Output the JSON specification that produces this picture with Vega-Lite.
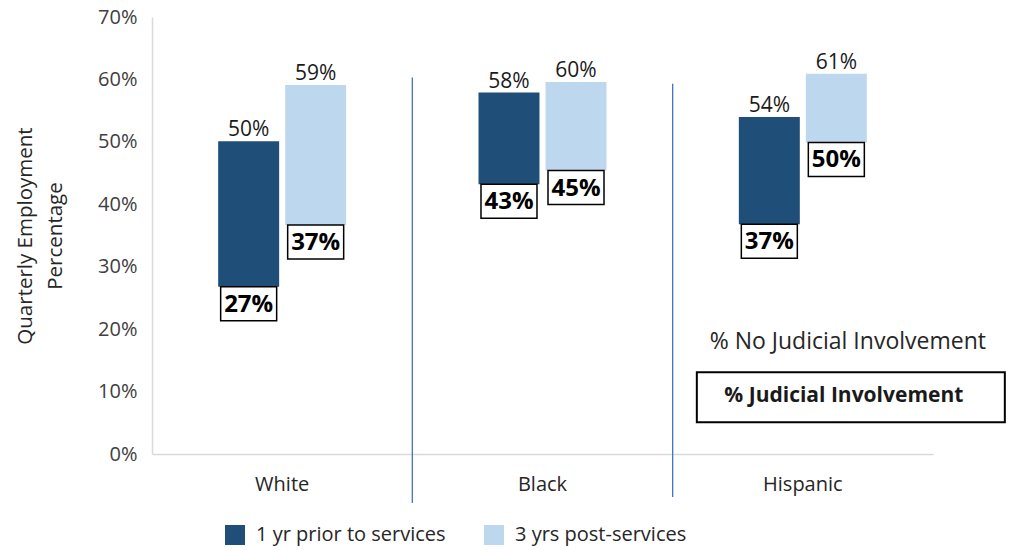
{
  "$schema": "https://vega.github.io/schema/vega-lite/v6.json",
  "width": 781,
  "height": 437,
  "autosize": {"type": "none"},
  "padding": {"left": 152, "top": 17, "right": 76, "bottom": 96},
  "background": "white",
  "config": {
    "font": "Open Sans",
    "view": {"stroke": null},
    "axisX": {"labelFontSize": 20, "labelColor": "#262626", "labelPadding": 20, "ticks": false, "domainColor": "#d9d9d9", "domainWidth": 1.5, "labelAngle": 0, "grid": false},
    "axisY": {"labelFontSize": 20, "labelColor": "#404040", "labelPadding": 15, "ticks": false, "domainColor": "#d9d9d9", "domainWidth": 1.5, "gridColor": "#e8e8e8", "format": ".0%", "titleFontSize": 20.5, "titleLineHeight": 30, "titleFontWeight": "normal", "titleColor": "#262626", "titlePadding": 32}
  },
  "datasets": {
    "bars": [
      {"race": "White", "period": "1 yr prior to services", "low": 0.268, "high": 0.501},
      {"race": "White", "period": "3 yrs post-services", "low": 0.367, "high": 0.591},
      {"race": "Black", "period": "1 yr prior to services", "low": 0.432, "high": 0.579},
      {"race": "Black", "period": "3 yrs post-services", "low": 0.454, "high": 0.596},
      {"race": "Hispanic", "period": "1 yr prior to services", "low": 0.368, "high": 0.54},
      {"race": "Hispanic", "period": "3 yrs post-services", "low": 0.499, "high": 0.609}
    ],
    "notes": [{"race": "Hispanic", "top": "% No Judicial Involvement", "bottom": "% Judicial Involvement"}]
  },
  "layer": [
    {
      "data": {"name": "notes"},
      "mark": {"type": "bar", "fill": "white", "width": 252},
      "encoding": {
        "x": {"field": "race", "type": "nominal", "scale": {"domain": ["White", "Black", "Hispanic"], "paddingInner": 0, "paddingOuter": 0}, "title": null},
        "y": {"datum": 0.022, "type": "quantitative", "scale": {"domain": [0, 0.7], "nice": false}},
        "y2": {"datum": 0.25}
      }
    },
    {
      "data": {"values": [{"race": "Black"}]},
      "mark": {"type": "rule", "color": "#4472c4", "strokeWidth": 1.3},
      "encoding": {
        "x": {"field": "race", "type": "nominal", "bandPosition": 0, "scale": {"domain": ["White", "Black", "Hispanic"], "paddingInner": 0, "paddingOuter": 0}, "title": null},
        "y": {"datum": 0.603, "type": "quantitative"},
        "y2": {"datum": -0.0785}
      }
    },
    {
      "data": {"values": [{"race": "Hispanic"}]},
      "mark": {"type": "rule", "color": "#4472c4", "strokeWidth": 1.3},
      "encoding": {
        "x": {"field": "race", "type": "nominal", "bandPosition": 0, "scale": {"domain": ["White", "Black", "Hispanic"], "paddingInner": 0, "paddingOuter": 0}, "title": null},
        "y": {"datum": 0.593, "type": "quantitative"},
        "y2": {"datum": -0.069}
      }
    },
    {
      "data": {"name": "bars"},
      "mark": {"type": "bar"},
      "encoding": {
        "x": {"field": "race", "type": "nominal", "scale": {"domain": ["White", "Black", "Hispanic"], "paddingInner": 0, "paddingOuter": 0}, "title": null},
        "xOffset": {"field": "period", "type": "nominal", "scale": {"domain": ["1 yr prior to services", "3 yrs post-services"], "paddingInner": 0.09, "paddingOuter": 0.9875}},
        "y": {"field": "low", "type": "quantitative", "scale": {"domain": [0, 0.7], "nice": false}, "title": ["Quarterly Employment", "Percentage"], "axis": {"values": [0, 0.1, 0.2, 0.3, 0.4, 0.5, 0.6, 0.7]}},
        "y2": {"field": "high"},
        "color": {
          "field": "period", "type": "nominal",
          "scale": {"domain": ["1 yr prior to services", "3 yrs post-services"], "range": ["#1f4e79", "#bdd7ee"]},
          "legend": {"orient": "none", "legendX": 73, "legendY": 508, "direction": "horizontal", "title": null, "symbolType": "square", "symbolSize": 400, "symbolStrokeWidth": 0, "labelFontSize": 20, "labelColor": "#262626", "columnPadding": 38, "labelOffset": 11, "labelLimit": 400}
        }
      }
    },
    {
      "data": {"name": "bars"},
      "mark": {"type": "text", "fontSize": 21, "baseline": "alphabetic", "dy": -5, "color": "#1a1a1a"},
      "encoding": {
        "x": {"field": "race", "type": "nominal", "scale": {"domain": ["White", "Black", "Hispanic"], "paddingInner": 0, "paddingOuter": 0}, "title": null},
        "xOffset": {"field": "period", "type": "nominal", "scale": {"domain": ["1 yr prior to services", "3 yrs post-services"], "paddingInner": 0.09, "paddingOuter": 0.9875}},
        "y": {"field": "high", "type": "quantitative", "scale": {"domain": [0, 0.7], "nice": false}, "title": ["Quarterly Employment", "Percentage"], "axis": {"values": [0, 0.1, 0.2, 0.3, 0.4, 0.5, 0.6, 0.7]}},
        "text": {"field": "high", "type": "quantitative", "format": ".0%"}
      }
    },
    {
      "data": {"name": "bars"},
      "mark": {"type": "bar", "fill": "white", "stroke": "black", "strokeWidth": 1.5, "width": 56, "y2Offset": 34},
      "encoding": {
        "x": {"field": "race", "type": "nominal", "scale": {"domain": ["White", "Black", "Hispanic"], "paddingInner": 0, "paddingOuter": 0}, "title": null},
        "xOffset": {"field": "period", "type": "nominal", "scale": {"domain": ["1 yr prior to services", "3 yrs post-services"], "paddingInner": 0.09, "paddingOuter": 0.9875}},
        "y": {"field": "low", "type": "quantitative", "scale": {"domain": [0, 0.7], "nice": false}, "title": ["Quarterly Employment", "Percentage"], "axis": {"values": [0, 0.1, 0.2, 0.3, 0.4, 0.5, 0.6, 0.7]}},
        "y2": {"field": "low"}
      }
    },
    {
      "data": {"name": "bars"},
      "mark": {"type": "text", "fontSize": 24, "fontWeight": "bold", "baseline": "middle", "dy": 18, "color": "black"},
      "encoding": {
        "x": {"field": "race", "type": "nominal", "scale": {"domain": ["White", "Black", "Hispanic"], "paddingInner": 0, "paddingOuter": 0}, "title": null},
        "xOffset": {"field": "period", "type": "nominal", "scale": {"domain": ["1 yr prior to services", "3 yrs post-services"], "paddingInner": 0.09, "paddingOuter": 0.9875}},
        "y": {"field": "low", "type": "quantitative", "scale": {"domain": [0, 0.7], "nice": false}, "title": ["Quarterly Employment", "Percentage"], "axis": {"values": [0, 0.1, 0.2, 0.3, 0.4, 0.5, 0.6, 0.7]}},
        "text": {"field": "low", "type": "quantitative", "format": ".0%"}
      }
    },
    {
      "data": {"name": "notes"},
      "mark": {"type": "text", "fontSize": 23, "baseline": "middle", "dx": 45, "color": "#262626"},
      "encoding": {
        "x": {"field": "race", "type": "nominal", "scale": {"domain": ["White", "Black", "Hispanic"], "paddingInner": 0, "paddingOuter": 0}, "title": null},
        "y": {"datum": 0.179, "type": "quantitative"},
        "text": {"field": "top", "type": "nominal"}
      }
    },
    {
      "data": {"name": "notes"},
      "mark": {"type": "bar", "fill": "white", "stroke": "black", "strokeWidth": 2, "width": 308, "xOffset": 48},
      "encoding": {
        "x": {"field": "race", "type": "nominal", "scale": {"domain": ["White", "Black", "Hispanic"], "paddingInner": 0, "paddingOuter": 0}, "title": null},
        "y": {"datum": 0.131, "type": "quantitative"},
        "y2": {"datum": 0.051}
      }
    },
    {
      "data": {"name": "notes"},
      "mark": {"type": "text", "fontSize": 21, "fontWeight": "bold", "baseline": "middle", "dx": 41, "color": "#1a1a1a"},
      "encoding": {
        "x": {"field": "race", "type": "nominal", "scale": {"domain": ["White", "Black", "Hispanic"], "paddingInner": 0, "paddingOuter": 0}, "title": null},
        "y": {"datum": 0.093, "type": "quantitative"},
        "text": {"field": "bottom", "type": "nominal"}
      }
    }
  ]
}
